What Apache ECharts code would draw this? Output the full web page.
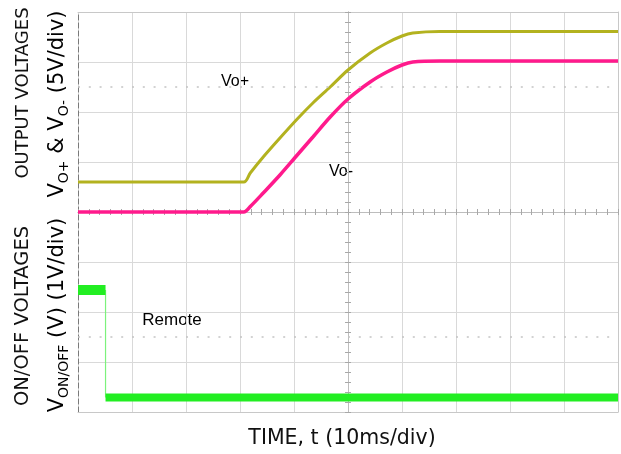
<!DOCTYPE html>
<html>
<head>
<meta charset="utf-8">
<script src="https://cdn.jsdelivr.net/npm/echarts@6/dist/echarts.min.js"></script>
<style>
  html, body { margin: 0; padding: 0; background: #ffffff; }
  #chart { width: 621px; height: 454px; }
</style>
</head>
<body>
<div id="chart"></div>
<script>
// Time axis: 10 ms/div, 10 divisions
const timeTicks = [0, 10, 20, 30, 40, 50, 60, 70, 80, 90, 100];

// Vo+ (output voltage, 5V/div)
const timeVoPlus = [0, 30.7, 31.9, 34.3, 37.4, 40.6, 43.5, 46.7, 50.0, 54.1, 57.2, 60.0, 62.0, 67.0, 100];
const voPlus     = [3.0, 3.0, 3.9, 5.5, 7.4, 9.3, 10.9, 12.5, 14.2, 15.9, 16.9, 17.6, 17.9, 18.05, 18.05];

// Vo- (output voltage, 5V/div)
const timeVoMinus = [0, 30.7, 32.0, 34.3, 37.4, 40.6, 43.5, 46.7, 50.0, 54.1, 57.2, 60.0, 62.0, 67.0, 100];
const voMinus     = [0, 0, 0.6, 1.9, 3.7, 5.7, 7.5, 9.5, 11.3, 13.0, 14.0, 14.7, 15.0, 15.1, 15.1];

// Remote ON/OFF voltage (1V/div)
const timeRemote = [0, 5.1, 5.1, 100];
const vRemote    = [2.44, 2.44, 0.29, 0.29];

// reference (dotted) levels
const refTop = 12.5;
const refBottom = 1.5;

const pairs = (t, v) => t.map((x, i) => [x, v[i]]);
const voPlusData = pairs(timeVoPlus, voPlus);
const voMinusData = pairs(timeVoMinus, voMinus);
const remoteData = pairs(timeRemote, vRemote);

const gridColor = '#d9d9d9';
const borderColor = '#c8c8c8';
const tickColor = '#a8a8a8';

function xAx(grid, pos, opts) {
  return Object.assign({
    type: 'value', gridIndex: grid, position: pos, min: 0, max: 100, interval: 10,
    axisLabel: { show: false },
    axisLine: { show: true, onZero: false, lineStyle: { color: borderColor, width: 1 } },
    axisTick: { show: false },
    splitLine: { show: false }
  }, opts);
}
function yAx(grid, pos, max, interval, opts) {
  return Object.assign({
    type: 'value', gridIndex: grid, position: pos, min: 0, max: max, interval: interval,
    axisLabel: { show: false },
    axisLine: { show: true, onZero: false, lineStyle: { color: borderColor, width: 1 } },
    axisTick: { show: false },
    splitLine: { show: false }
  }, opts);
}
const centerTicks = {
  axisLine: { show: true, onZero: false, lineStyle: { color: '#bdbdbd', width: 1 } },
  axisTick: { show: true, inside: true, length: 3, lineStyle: { color: tickColor } },
  minorTick: { show: true, splitNumber: 5, length: 3, lineStyle: { color: tickColor } }
};
const centerTicksOut = {
  axisLine: { show: true, onZero: false, lineStyle: { color: '#bdbdbd', width: 1 } },
  axisTick: { show: true, inside: false, length: 3, lineStyle: { color: tickColor } },
  minorTick: { show: true, splitNumber: 5, length: 3, lineStyle: { color: tickColor } }
};
const split = { splitLine: { show: true, lineStyle: { color: gridColor, width: 1 } } };
const leftEdge = { axisLine: { show: true, onZero: false, lineStyle: { color: '#7a7a7a', width: 1, type: [5, 3] } } };

const chart = echarts.init(document.getElementById('chart'), null, { renderer: 'canvas' });

const titleFont = 'DejaVu Sans';
const subRich = {
  a: { fontFamily: titleFont, fontSize: 21, color: '#111', lineHeight: 26, verticalAlign: 'bottom' },
  s: { fontFamily: titleFont, fontSize: 14, color: '#111', lineHeight: 26, verticalAlign: 'bottom', padding: [0, 0, -3, 0] }
};

chart.setOption({
  animation: false,
  backgroundColor: '#ffffff',
  grid: [
    { left: 78, top: 12, width: 540, height: 200 },
    { left: 78, top: 212, width: 540, height: 200 }
  ],
  xAxis: [
    xAx(0, 'bottom', Object.assign({}, centerTicks, split)),
    xAx(1, 'top', Object.assign({}, centerTicks, split)),
    xAx(0, 'top', {}),
    xAx(1, 'bottom', {})
  ],
  yAxis: [
    yAx(0, 'left', 20, 5, Object.assign({}, leftEdge, split)),
    yAx(1, 'left', 4, 1, Object.assign({}, leftEdge, split)),
    yAx(0, 'right', 20, 5, {}),
    yAx(1, 'right', 4, 1, {}),
    yAx(0, 'left', 20, 5, Object.assign({ offset: -270 }, centerTicksOut)),
    yAx(0, 'right', 20, 5, Object.assign({ offset: -270 }, centerTicksOut)),
    yAx(1, 'left', 4, 1, Object.assign({ offset: -270 }, centerTicksOut)),
    yAx(1, 'right', 4, 1, Object.assign({ offset: -270 }, centerTicksOut))
  ],
  series: [
    {
      name: 'Vo+', type: 'line', xAxisIndex: 0, yAxisIndex: 0, data: voPlusData,
      showSymbol: false, clip: false, smooth: 0.3,
      lineStyle: { color: '#b3b21f', width: 3 },
      markLine: {
        silent: true, symbol: ['none', 'none'], label: { show: false },
        lineStyle: { color: '#c4c4c4', type: [2, 8.8], width: 1.5 },
        data: [{ yAxis: refTop }]
      }
    },
    {
      name: 'Vo-', type: 'line', xAxisIndex: 0, yAxisIndex: 0, data: voMinusData,
      showSymbol: false, clip: false, smooth: 0.3,
      lineStyle: { color: '#ff1a8c', width: 3.5 }
    },
    {
      name: 'Remote edge', type: 'line', xAxisIndex: 1, yAxisIndex: 1, data: remoteData.slice(1, 3),
      showSymbol: false, clip: false, lineStyle: { color: '#7cf27c', width: 1.2 }
    },
    {
      name: 'Remote high', type: 'line', xAxisIndex: 1, yAxisIndex: 1, data: remoteData.slice(0, 2),
      showSymbol: false, clip: false, lineStyle: { color: '#22ee22', width: 10 }
    },
    {
      name: 'Remote low', type: 'line', xAxisIndex: 1, yAxisIndex: 1, data: remoteData.slice(2, 4),
      showSymbol: false, clip: false, lineStyle: { color: '#22ee22', width: 8 },
      markLine: {
        silent: true, symbol: ['none', 'none'], label: { show: false },
        lineStyle: { color: '#c4c4c4', type: [2, 8.8], width: 1.5 },
        data: [{ yAxis: refBottom }]
      }
    }
  ],
  graphic: [
    { type: 'text', x: 23, y: 93, rotation: Math.PI / 2,
      style: { text: 'OUTPUT VOLTAGES', fontFamily: titleFont, fontSize: 18, fill: '#111', align: 'center', verticalAlign: 'middle' } },
    { type: 'text', x: 55, y: 104, rotation: Math.PI / 2,
      style: { text: '{a|V}{s|O+}{a| & V}{s|O-}{a| (5V/div)}', rich: subRich, align: 'center', verticalAlign: 'middle' } },
    { type: 'text', x: 23, y: 316, rotation: Math.PI / 2,
      style: { text: 'ON/OFF VOLTAGES', fontFamily: titleFont, fontSize: 19.5, fill: '#111', align: 'center', verticalAlign: 'middle' } },
    { type: 'text', x: 55, y: 315, rotation: Math.PI / 2,
      style: { text: '{a|V}{s|ON/OFF}{a| (V) (1V/div)}', rich: subRich, align: 'center', verticalAlign: 'middle' } },
    { type: 'text', x: 342, y: 439,
      style: { text: 'TIME, t (10ms/div)', fontFamily: titleFont, fontSize: 20.5, fill: '#111', align: 'center', verticalAlign: 'middle' } },
    { type: 'text', x: 235, y: 82,
      style: { text: 'Vo+', fontFamily: 'Liberation Sans', fontSize: 16, fill: '#000', align: 'center', verticalAlign: 'middle' } },
    { type: 'text', x: 341, y: 172,
      style: { text: 'Vo-', fontFamily: 'Liberation Sans', fontSize: 16, fill: '#000', align: 'center', verticalAlign: 'middle' } },
    { type: 'text', x: 172, y: 320,
      style: { text: 'Remote', fontFamily: 'Liberation Sans', fontSize: 17, fill: '#000', align: 'center', verticalAlign: 'middle' } }
  ]
});
</script>
</body>
</html>
